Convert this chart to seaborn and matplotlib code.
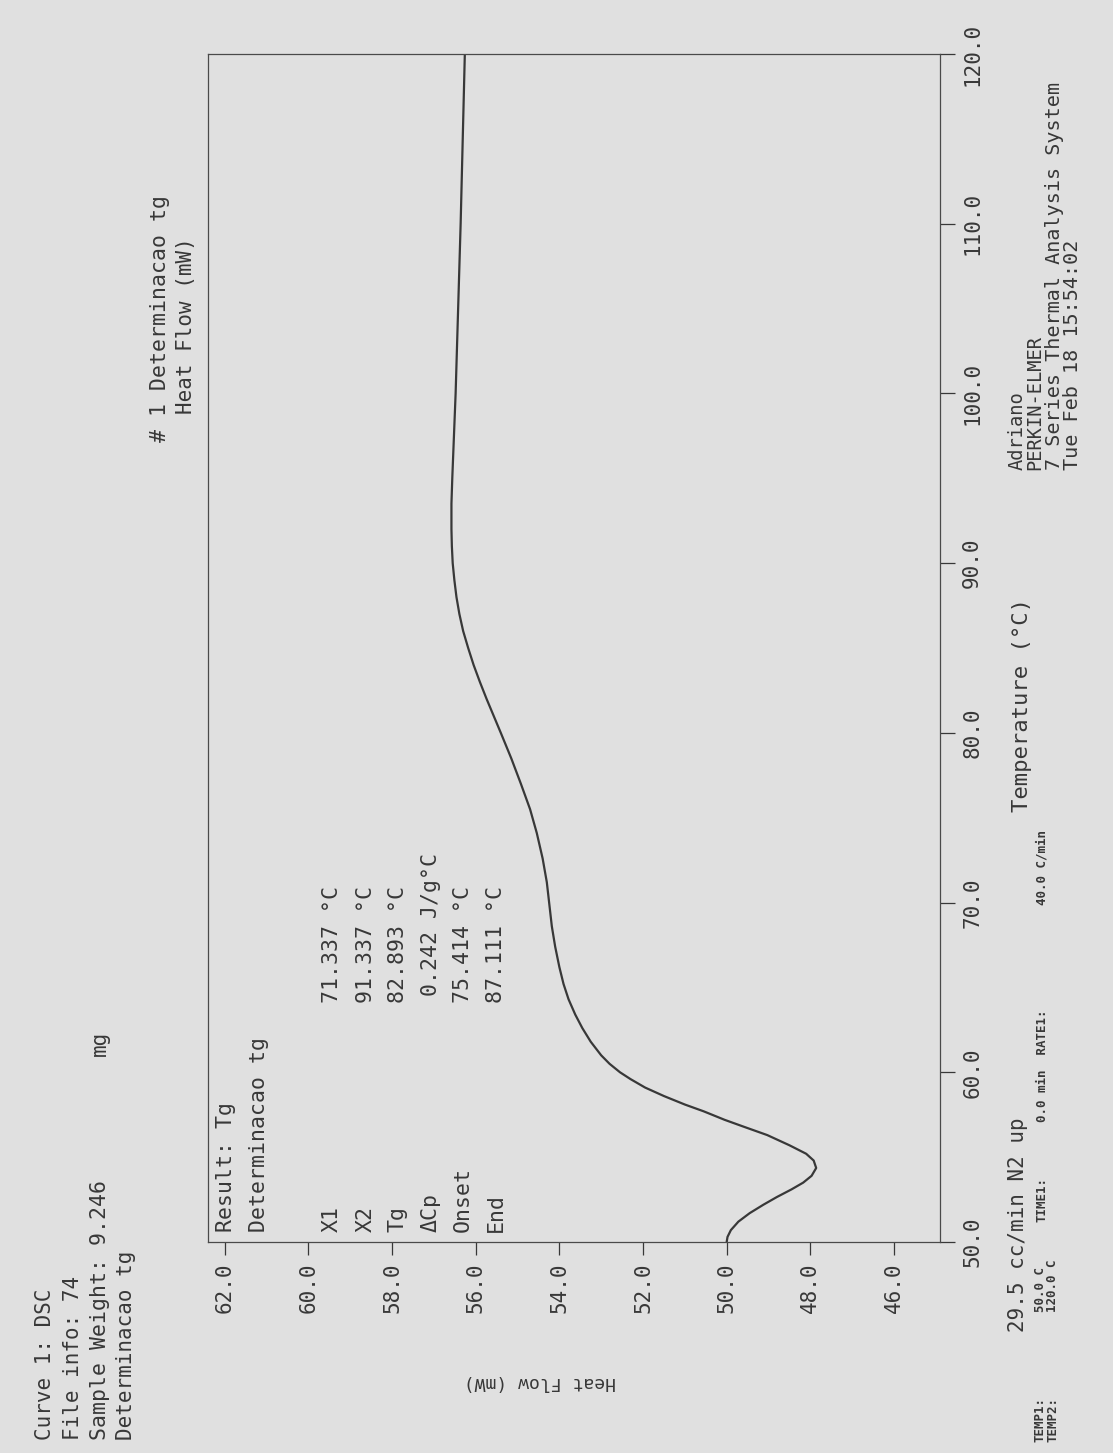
import numpy as np
import pandas as pd
import matplotlib
matplotlib.use("Agg")
import matplotlib.pyplot as plt
import seaborn as sns

# DSC trace: temperature (°C) and heat flow (mW)
temperature = [50.0, 50.3, 50.7, 51.2, 51.7, 52.2, 52.65, 53.1, 53.5, 53.9,
               54.36, 54.8, 55.2, 55.7, 56.3, 56.8, 57.2, 57.7, 58.1, 58.6,
               59.1, 59.6, 60.0, 60.5, 61.0, 61.8, 62.6, 63.4, 64.3, 65.2,
               66.2, 67.4, 68.6, 69.9, 71.2, 72.6, 74.1, 75.5, 77.0, 78.5,
               80.0, 81.0, 82.0, 83.0, 84.0, 85.0, 86.0, 87.0, 88.0, 89.0,
               90.0, 91.0, 92.0, 93.5, 95.0, 97.5, 100.0, 105.0, 110.0,
               115.0, 120.0]
heat_flow = [50.00, 49.98, 49.90, 49.72, 49.45, 49.12, 48.80, 48.45, 48.17, 47.97,
             47.86, 47.92, 48.10, 48.50, 49.03, 49.60, 50.05, 50.55, 51.00, 51.50,
             51.95, 52.30, 52.55, 52.80, 53.00, 53.25, 53.45, 53.62, 53.78, 53.90,
             54.00, 54.10, 54.18, 54.24, 54.30, 54.40, 54.54, 54.70, 54.92, 55.15,
             55.40, 55.57, 55.74, 55.90, 56.05, 56.18, 56.30, 56.39, 56.46, 56.51,
             56.55, 56.57, 56.58, 56.58, 56.56, 56.52, 56.48, 56.42, 56.36,
             56.31, 56.26]

heat_ticks = [62.0, 60.0, 58.0, 56.0, 54.0, 52.0, 50.0, 48.0, 46.0]
temp_ticks = [50.0, 60.0, 70.0, 80.0, 90.0, 100.0, 110.0, 120.0]

result_names = ["X1", "X2", "Tg", "\u0394Cp", "Onset", "End"]
result_values = ["71.337", "91.337", "82.893", "0.242", "75.414", "87.111"]
result_units = ["\u00b0C", "\u00b0C", "\u00b0C", "J/g\u00b0C", "\u00b0C", "\u00b0C"]

W, H = 1113, 1453
PAPER = "#e0e0e0"
INK = "#383838"

sns.set_theme(style="white")
plt.rcParams["font.family"] = ["DejaVu Sans Mono", "DejaVu Sans"]
plt.rcParams["text.color"] = INK
plt.rcParams["axes.labelcolor"] = INK
plt.rcParams["xtick.color"] = INK
plt.rcParams["ytick.color"] = INK

fig = plt.figure(figsize=(W / 100, H / 100), dpi=100, facecolor=PAPER)


def fx(px):
    return px / W


def fy(py):
    return 1 - py / H


# plotting frame (page printed in landscape, so the heat-flow axis runs across)
left, right, top, bottom = 208, 940, 54, 1242
ax = fig.add_axes([fx(left), fy(bottom), fx(right) - fx(left), fy(top) - fy(bottom)])
ax.set_facecolor(PAPER)

df = pd.DataFrame({"Temperature": temperature, "Heat Flow": heat_flow})
sns.lineplot(data=df, x="Heat Flow", y="Temperature", orient="y", sort=True,
             color=INK, linewidth=1.6, ax=ax, estimator=None)

ax.set_xlim(62.4, 44.9)
ax.set_ylim(50, 120)
ax.set_xlabel("")
ax.set_ylabel("")

for s in ax.spines.values():
    s.set_visible(True)
    s.set_color("#4a4a4a")
    s.set_linewidth(0.9)

ax.set_xticks(heat_ticks)
ax.set_xticklabels([f"{v:.1f}" for v in heat_ticks], rotation=90,
                   fontsize=15, va="top", ha="center")
ax.yaxis.tick_right()
ax.set_yticks(temp_ticks)
ax.set_yticklabels([f"{v:.1f}" for v in temp_ticks], rotation=90,
                   fontsize=15, va="center", ha="left")
ax.tick_params(axis="x", direction="out", length=9, width=0.9, pad=6, bottom=True)
ax.tick_params(axis="y", direction="out", length=11, width=0.9, pad=5, right=True, left=False)


def vtext(x, y, s, size=14, va="bottom", **kw):
    fig.text(fx(x), fy(y), s, rotation=90, ha="center", va=va, fontsize=size, **kw)


# header block
vtext(45, 1440, "Curve 1: DSC", size=15)
vtext(73, 1440, "File info: 74", size=15)
vtext(100, 1440, "Sample Weight: 9.246", size=15.5)
vtext(100, 1056, "mg", size=15)
vtext(126, 1440, "Determinacao tg", size=15)

# title
vtext(160, 318, "# 1 Determinacao tg", va="center", size=15.5)
vtext(186, 326, "Heat Flow (mW)", va="center", size=15)

# results block inside the frame
vtext(226, 1232, "Result: Tg", size=15.5)
vtext(259, 1232, "Determinacao tg", size=15.5)
name_x = [332, 366, 398, 431, 463, 496]
value_y = [1003, 1003, 1003, 996, 1003, 1003]
for x, yv, n, v, u in zip(name_x, value_y, result_names, result_values, result_units):
    vtext(x, 1232, n, size=15.5)
    vtext(x, yv, f"{v} {u}", size=15.5)

# axis titles
vtext(1022, 705, "Temperature (\u00b0C)", va="center", size=16)
fig.text(fx(540), fy(1382), "Heat Flow (mW)", rotation=180, ha="center",
         va="center", fontsize=13)

# run conditions
vtext(1018, 1332, "29.5 cc/min N2 up", size=15)
vtext(1040, 1442, "TEMP1:", size=9, weight="bold")
vtext(1053, 1442, "TEMP2:", size=9, weight="bold")
vtext(1040, 1312, "50.0 C", size=9, weight="bold")
vtext(1053, 1312, "120.0 C", size=9, weight="bold")
vtext(1042, 1222, "TIME1:", size=9, weight="bold")
vtext(1042, 1122, "0.0 min  RATE1:", size=9, weight="bold")
vtext(1042, 905, "40.0 C/min", size=9, weight="bold")

# instrument block
vtext(1017, 470, "Adriano", size=13.5)
vtext(1035, 470, "PERKIN-ELMER", size=13.5)
vtext(1054, 470, "7 Series Thermal Analysis System", size=14.5)
vtext(1073, 470, "Tue Feb 18 15:54:02", size=14.5)

fig.savefig("out.png", dpi=100, facecolor=PAPER)
